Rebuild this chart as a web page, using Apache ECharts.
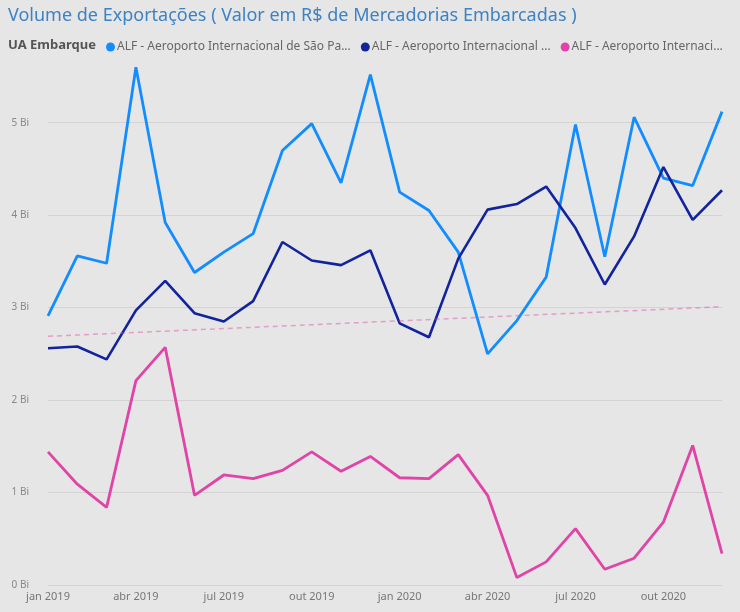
<!DOCTYPE html>
<html>
<head>
<meta charset="utf-8">
<script src="https://cdn.jsdelivr.net/npm/echarts@6/dist/echarts.min.js"></script>
<style>
  html, body { margin: 0; padding: 0; background: #e6e6e6; }
  #board { width: 740px; height: 612px; }
</style>
</head>
<body>
<div id="board"></div>
<script>
  var meses = ['jan 2019','fev 2019','mar 2019','abr 2019','mai 2019','jun 2019','jul 2019','ago 2019','set 2019','out 2019','nov 2019','dez 2019',
               'jan 2020','fev 2020','mar 2020','abr 2020','mai 2020','jun 2020','jul 2020','ago 2020','set 2020','out 2020','nov 2020','dez 2020'];

  var nomes = ['ALF - Aeroporto Internacional de São Pa...', 'ALF - Aeroporto Internacional ...', 'ALF - Aeroporto Internaci...'];

  // valores em bilhões
  var saoPaulo = [2.91, 3.56, 3.48, 5.60, 3.92, 3.38, 3.60, 3.80, 4.70, 4.99, 4.35, 5.52,
                  4.25, 4.05, 3.60, 2.50, 2.86, 3.33, 4.98, 3.55, 5.06, 4.40, 4.32, 5.12];
  var aeroporto2 = [2.56, 2.58, 2.44, 2.97, 3.29, 2.94, 2.85, 3.07, 3.71, 3.51, 3.46, 3.62,
                    2.83, 2.68, 3.53, 4.06, 4.12, 4.31, 3.86, 3.25, 3.77, 4.52, 3.95, 4.27];
  var aeroporto3 = [1.44, 1.09, 0.84, 2.21, 2.57, 0.97, 1.19, 1.15, 1.24, 1.44, 1.23, 1.39,
                    1.16, 1.15, 1.41, 0.97, 0.08, 0.25, 0.61, 0.17, 0.29, 0.68, 1.51, 0.34];
  // linha de tendência: só os extremos
  var tendencia = [2.69, null, null, null, null, null, null, null, null, null, null, null,
                   null, null, null, null, null, null, null, null, null, null, null, 3.01];

  var cores = ['#118dff', '#12239e', '#e044a7'];

  var myChart = echarts.init(document.getElementById('board'));
  var option = {
    backgroundColor: '#e6e6e6',
    textStyle: { fontFamily: 'Noto Sans' },
    title: [
      {
        text: 'Volume de Exportações ( Valor em R$ de Mercadorias Embarcadas )',
        left: 3, top: 2,
        textStyle: { color: '#3d82c4', fontSize: 18, fontWeight: 'normal' }
      },
      {
        text: 'UA Embarque',
        left: 3, top: 34,
        textStyle: { color: '#555', fontSize: 13, fontWeight: 'bold' }
      }
    ],
    legend: {
      data: nomes,
      left: 101, top: 36,
      icon: 'circle',
      itemWidth: 9, itemHeight: 9, itemGap: 10,
      textStyle: { color: '#666', fontSize: 12, padding: [0, 0, 0, -3] }
    },
    grid: { left: 48, right: 18, top: 58, bottom: 27 },
    xAxis: {
      type: 'category',
      data: meses,
      boundaryGap: false,
      axisLine: { show: false },
      axisTick: { show: false },
      axisLabel: { interval: 2, margin: 6, color: '#777', fontSize: 11 }
    },
    yAxis: {
      type: 'value',
      min: 0, max: 5.7, interval: 1,
      axisLine: { show: false },
      axisTick: { show: false },
      axisLabel: {
        showMaxLabel: false, margin: 19,
        color: '#888', fontSize: 10,
        formatter: function (v) { return v + ' Bi'; }
      },
      splitLine: {
        lineStyle: {
          color: ['#d3d3d3', '#d3d3d3', '#d3d3d3', '#d3d3d3', '#d3d3d3', '#d3d3d3', 'transparent'],
          width: 1
        }
      }
    },
    series: [
      {
        name: nomes[0], type: 'line', data: saoPaulo,
        symbol: 'none', color: cores[0],
        lineStyle: { width: 2.8 }
      },
      {
        name: nomes[1], type: 'line', data: aeroporto2,
        symbol: 'none', color: cores[1],
        lineStyle: { width: 2.6 }
      },
      {
        name: nomes[2], type: 'line', data: aeroporto3,
        symbol: 'none', color: cores[2],
        lineStyle: { width: 2.8 }
      },
      {
        name: 'tendência', type: 'line', data: tendencia,
        symbol: 'none', connectNulls: true,
        lineStyle: { width: 1.5, type: [5, 4], color: 'rgba(224,68,167,0.45)' },
        silent: true
      }
    ]
  };
  myChart.setOption(option);
</script>
</body>
</html>
